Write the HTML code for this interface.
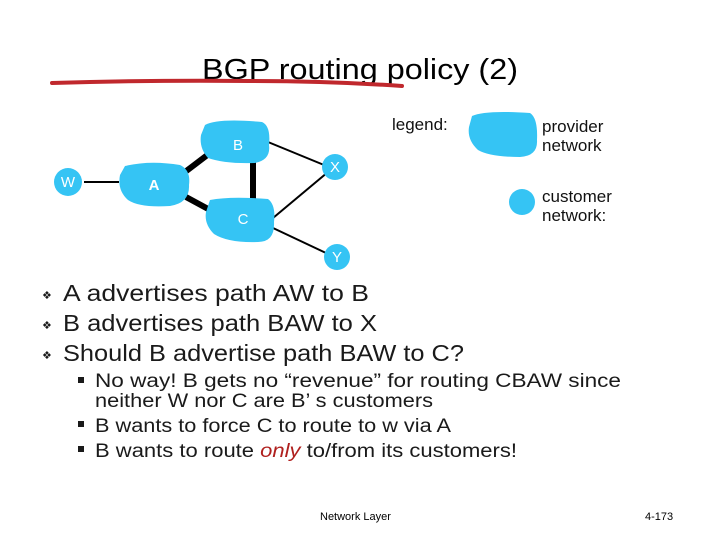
<!DOCTYPE html>
<html><head><style>
html,body{margin:0;padding:0;background:#fff;}
svg{display:block;}
</style></head><body>
<svg width="720" height="540" viewBox="0 0 720 540" xmlns="http://www.w3.org/2000/svg">
<text x="202" y="79" font-family="Liberation Sans,sans-serif" font-size="29" textLength="316" lengthAdjust="spacingAndGlyphs" fill="#000">BGP routing policy (2)</text>
<path d="M52 83 Q150 80 250 81 Q330 81 402 86" stroke="#c0282d" stroke-width="4" fill="none" stroke-linecap="round"/>
<g stroke="#000">
<line x1="84" y1="182" x2="119" y2="182" stroke-width="2"/>
<line x1="185" y1="172" x2="210" y2="153" stroke-width="6"/>
<line x1="186" y1="197" x2="210" y2="210" stroke-width="6"/>
<line x1="253" y1="160" x2="253" y2="200" stroke-width="6"/>
<line x1="268" y1="142" x2="324" y2="165" stroke-width="2"/>
<line x1="273" y1="218" x2="328" y2="172" stroke-width="2"/>
<line x1="273" y1="228" x2="326" y2="253" stroke-width="2"/>
</g>
<g fill="#35c4f4">
<circle cx="68" cy="182" r="14"/>
<path d="M125 166 Q150 160 180 165 Q191 170 189 185 Q190 203 170 206 Q140 208 128 200 Q117 190 120 175 Z"/>
<path d="M205 125 Q218 118 262 122 Q271 126 269 145 Q271 160 255 163 Q225 164 208 158 Q199 148 201 135 Z"/>
<path d="M210 200 Q230 196 268 199 Q276 205 274 222 Q275 242 258 242 Q228 243 214 234 Q204 224 206 212 Z"/>
<circle cx="335" cy="167" r="13"/>
<circle cx="337" cy="257" r="13"/>
<path d="M472 116 Q485 110 530 113 Q538 118 537 140 Q538 156 520 157 Q490 157 478 150 Q467 140 469 127 Z"/>
<circle cx="522" cy="202" r="13"/>
</g>
<g font-family="Liberation Sans,sans-serif" fill="#fff" font-size="15" text-anchor="middle">
<text x="68" y="187">W</text>
<text x="154" y="190" font-weight="bold">A</text>
<text x="238" y="150">B</text>
<text x="243" y="224">C</text>
<text x="335" y="172">X</text>
<text x="337" y="262">Y</text>
</g>
<g font-family="Liberation Sans,sans-serif" fill="#111" font-size="17">
<text x="392" y="130">legend:</text>
<text x="542" y="132">provider</text>
<text x="542" y="151">network</text>
<text x="542" y="202">customer</text>
<text x="542" y="221">network:</text>
</g>
<g font-family="Liberation Sans,sans-serif" fill="#1a1a1a" font-size="23">
<text x="63" y="301" textLength="306" lengthAdjust="spacingAndGlyphs">A advertises path AW  to B</text>
<text x="63" y="331" textLength="314" lengthAdjust="spacingAndGlyphs">B advertises path BAW to X</text>
<text x="63" y="361" textLength="401" lengthAdjust="spacingAndGlyphs">Should B advertise path BAW to C?</text>
</g>
<g fill="#1a1a1a" font-family="DejaVu Sans,sans-serif" font-size="11">
<text x="42" y="299">❖</text><text x="42" y="329">❖</text><text x="42" y="359">❖</text>
</g>
<g fill="#1a1a1a">
<rect x="78" y="377" width="6" height="6"/><rect x="78" y="421" width="6" height="6"/><rect x="78" y="446" width="6" height="6"/>
</g>
<g font-family="Liberation Sans,sans-serif" fill="#1a1a1a" font-size="19">
<text x="95" y="387" textLength="526" lengthAdjust="spacingAndGlyphs">No way! B gets no  “revenue”  for routing CBAW since</text>
<text x="95" y="407" textLength="338" lengthAdjust="spacingAndGlyphs">neither W nor C are B’ s customers</text>
<text x="95" y="432" textLength="356" lengthAdjust="spacingAndGlyphs">B wants to force C to route to w via A</text>
<text x="95" y="457" textLength="422" lengthAdjust="spacingAndGlyphs">B wants to route <tspan fill="#b0201e" font-style="italic">only</tspan> to/from its customers!</text>
</g>
<text x="320" y="520" font-family="Liberation Sans,sans-serif" font-size="11" fill="#000">Network Layer</text>
<text x="645" y="520" font-family="Liberation Sans,sans-serif" font-size="11" fill="#000">4-173</text>
</svg>
</body></html>
